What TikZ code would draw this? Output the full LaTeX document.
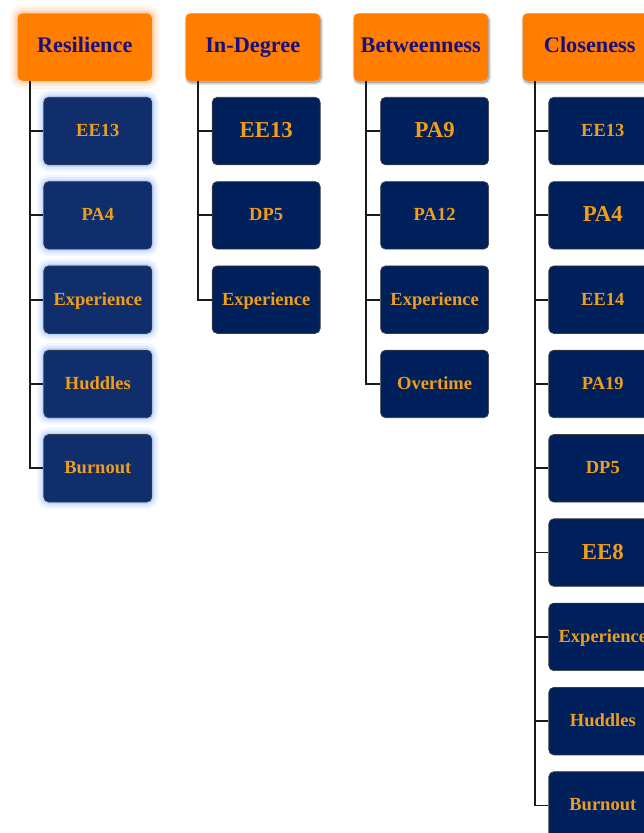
\documentclass[tikz,border=0pt]{standalone}
\usepackage{fontspec}
\setmainfont{Liberation Serif}
\usetikzlibrary{calc}
\definecolor{hdrfill}{RGB}{255,126,0}
\definecolor{hdrtext}{RGB}{26,14,125}
\definecolor{kidfill}{RGB}{0,32,91}
\definecolor{kidfillR}{RGB}{15,46,107}
\definecolor{kidtext}{RGB}{238,158,28}
\definecolor{glowO}{RGB}{255,160,80}
\definecolor{glowB}{RGB}{120,170,255}
\definecolor{edge}{RGB}{60,60,60}
\tikzset{
  hdr/.style={rounded corners=5pt, fill=hdrfill, minimum width=134.5pt, minimum height=67.5pt,
    inner sep=0pt, text=hdrtext, font=\bfseries\fontsize{22.3}{26}\selectfont,
    text height=17.4pt, text depth=5.6pt},
  hdrshadow/.style={
    preaction={fill=black, opacity=0.10, transform canvas={xshift=1pt,yshift=-2pt}, draw=black, line width=4pt},
    preaction={fill=black, opacity=0.10, transform canvas={xshift=1pt,yshift=-2pt}, draw=black, line width=1.5pt}},
  hdrglow/.style={
    preaction={draw=glowO, line width=16pt, opacity=0.10},
    preaction={draw=glowO, line width=10pt, opacity=0.15},
    preaction={draw=glowO, line width=5pt, opacity=0.25}},
  kid/.style={rounded corners=5pt, fill=kidfill, draw=edge, line width=0.7pt,
    minimum width=108pt, minimum height=67.5pt, inner sep=0pt, text=kidtext,
    font=\bfseries\fontsize{18.5}{22}\selectfont, text height=15.6pt, text depth=4.6pt},
  kidR/.style={kid, fill=kidfillR,
    preaction={draw=glowB, line width=14pt, opacity=0.10},
    preaction={draw=glowB, line width=9pt, opacity=0.18},
    preaction={draw=glowB, line width=4pt, opacity=0.30}},
  big/.style={font=\bfseries\fontsize{22.8}{26}\selectfont, text height=18.8pt, text depth=5.7pt},
  tree/.style={draw=black!90, line width=1.8pt}
}
\begin{document}
\begin{tikzpicture}[x=1pt,y=-1pt]
\useasboundingbox (0,0) rectangle (644,833);
\clip (0,0) rectangle (644,833);
% headers
\node[hdr,hdrglow] (h1) at (84.75,47) {Resilience};
\node[hdr,hdrshadow] (h2) at (252.75,47) {In-Degree};
\node[hdr,hdrshadow] (h3) at (420.75,47) {Betweenness};
\node[hdr,hdrshadow] (h4) at (589.75,47) {Closeness};
% trunk coordinates
\coordinate (t1) at ($(h1.south west)+(13,0)$);
\coordinate (t2) at ($(h2.south west)+(13,0)$);
\coordinate (t3) at ($(h3.south west)+(13,0)$);
\coordinate (t4) at ($(h4.south west)+(13,0)$);
% Resilience children
\node[kidR] (a1) at (97.8,131.05) {EE13};
\node[kidR] (a2) at (97.8,215.35) {PA4};
\node[kidR] (a3) at (97.8,299.65) {Experience};
\node[kidR] (a4) at (97.8,383.95) {Huddles};
\node[kidR] (a5) at (97.8,468.25) {Burnout};
% In-Degree children
\node[kid,big] (b1) at (266.2,131.05) {EE13};
\node[kid] (b2) at (266.2,215.35) {DP5};
\node[kid] (b3) at (266.2,299.65) {Experience};
% Betweenness children
\node[kid,big] (c1) at (434.6,131.05) {PA9};
\node[kid] (c2) at (434.6,215.35) {PA12};
\node[kid] (c3) at (434.6,299.65) {Experience};
\node[kid] (c4) at (434.6,383.95) {Overtime};
% Closeness children
\node[kid] (d1) at (602.8,131.05) {EE13};
\node[kid,big] (d2) at (602.8,215.35) {PA4};
\node[kid] (d3) at (602.8,299.65) {EE14};
\node[kid] (d4) at (602.8,383.95) {PA19};
\node[kid] (d5) at (602.8,468.25) {DP5};
\node[kid,big] (d6) at (602.8,552.55) {EE8};
\node[kid] (d7) at (602.8,636.85) {Experience};
\node[kid] (d8) at (602.8,721.15) {Huddles};
\node[kid] (d9) at (602.8,805.45) {Burnout};
% connectors
\draw[tree] (t1) |- (a5.west);
\foreach \k in {1,...,4} \draw[tree] (t1 |- a\k.west) -- (a\k.west);
\draw[tree] (t2) |- (b3.west);
\foreach \k in {1,2} \draw[tree] (t2 |- b\k.west) -- (b\k.west);
\draw[tree] (t3) |- (c4.west);
\foreach \k in {1,2,3} \draw[tree] (t3 |- c\k.west) -- (c\k.west);
\draw[tree] (t4) |- (d9.west);
\foreach \k in {1,...,8} \draw[tree] (t4 |- d\k.west) -- (d\k.west);
\end{tikzpicture}
\end{document}
